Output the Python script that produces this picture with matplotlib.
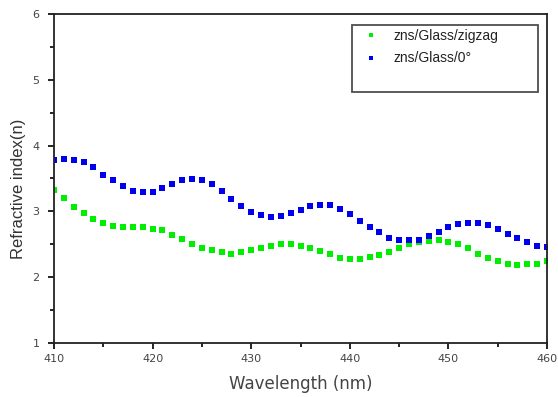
import numpy as np
import matplotlib
matplotlib.use('Agg')
import matplotlib.pyplot as plt
from matplotlib.lines import Line2D
from matplotlib.ticker import MultipleLocator

plt.rcParams['font.family'] = ['Liberation Sans', 'DejaVu Sans']

# wavelength in nm, one point per nm
wavelength = list(range(410, 461))

zigzag = [3.33, 3.20, 3.07, 2.97, 2.89, 2.83, 2.78, 2.77, 2.77, 2.76,
          2.74, 2.71, 2.64, 2.58, 2.50, 2.44, 2.41, 2.38, 2.36, 2.38,
          2.41, 2.45, 2.48, 2.50, 2.50, 2.47, 2.44, 2.40, 2.35, 2.29,
          2.28, 2.28, 2.30, 2.33, 2.38, 2.44, 2.50, 2.53, 2.55, 2.57,
          2.53, 2.50, 2.44, 2.36, 2.29, 2.24, 2.20, 2.19, 2.20, 2.20,
          2.25]

zero_deg = [3.78, 3.80, 3.78, 3.75, 3.68, 3.56, 3.48, 3.38, 3.31, 3.29,
            3.30, 3.35, 3.42, 3.48, 3.49, 3.48, 3.42, 3.31, 3.19, 3.08,
            2.99, 2.95, 2.92, 2.93, 2.97, 3.02, 3.08, 3.10, 3.09, 3.04,
            2.96, 2.86, 2.77, 2.68, 2.59, 2.57, 2.57, 2.57, 2.63, 2.68,
            2.77, 2.81, 2.83, 2.83, 2.79, 2.73, 2.65, 2.59, 2.53, 2.48,
            2.46]

fig = plt.figure(figsize=(5.58, 3.97), dpi=100)
ax = fig.add_axes([54 / 558, 1 - 343 / 397, 493 / 558, 329 / 397])

ax.plot(wavelength, zigzag, 's', color='#00ee00', markersize=4.3,
        markeredgewidth=0, label='zns/Glass/zigzag')
ax.plot(wavelength, zero_deg, 's', color='#0000ee', markersize=4.3,
        markeredgewidth=0, label='zns/Glass/0°')

ax.set_xlim(410, 460)
ax.set_ylim(1, 6)
ax.xaxis.set_major_locator(MultipleLocator(10))
ax.xaxis.set_minor_locator(MultipleLocator(5))
ax.yaxis.set_major_locator(MultipleLocator(1))
ax.yaxis.set_minor_locator(MultipleLocator(0.5))
ax.tick_params(which='both', direction='out', top=False, right=False,
               labelsize=8, labelcolor='#444444', width=1.2)
ax.tick_params(which='major', length=4.5)
ax.tick_params(which='minor', length=3)
ax.tick_params(axis='y', pad=6)
for lbl in ax.get_xticklabels() + ax.get_yticklabels():
    lbl.set_family('DejaVu Sans')
for s in ax.spines.values():
    s.set_linewidth(1.3)
    s.set_color('#222222')

ax.set_xlabel('Wavelength (nm)', fontsize=12, color='#444444', labelpad=7.5,
              family='DejaVu Sans')
ax.set_ylabel('Refractive index(n)', fontsize=12, color='#333333')
ax.yaxis.set_label_coords(-0.056, 0.468)

handles, labels = ax.get_legend_handles_labels()
handles.append(Line2D([], [], linestyle='none'))
labels.append(' ')
leg = ax.legend(handles, labels, loc='upper left',
                bbox_to_anchor=(0.6045, 0, 0.3773, 0.9666), mode='expand',
                fontsize=10, frameon=True, fancybox=False, edgecolor='#222222',
                handlelength=2.2, handletextpad=0.5, borderpad=0.3,
                labelspacing=0.6, markerscale=0.7, borderaxespad=0)
leg.get_frame().set_linewidth(1.3)
for t in leg.get_texts():
    t.set_color('#222222')

fig.savefig('out.png', dpi=100)
